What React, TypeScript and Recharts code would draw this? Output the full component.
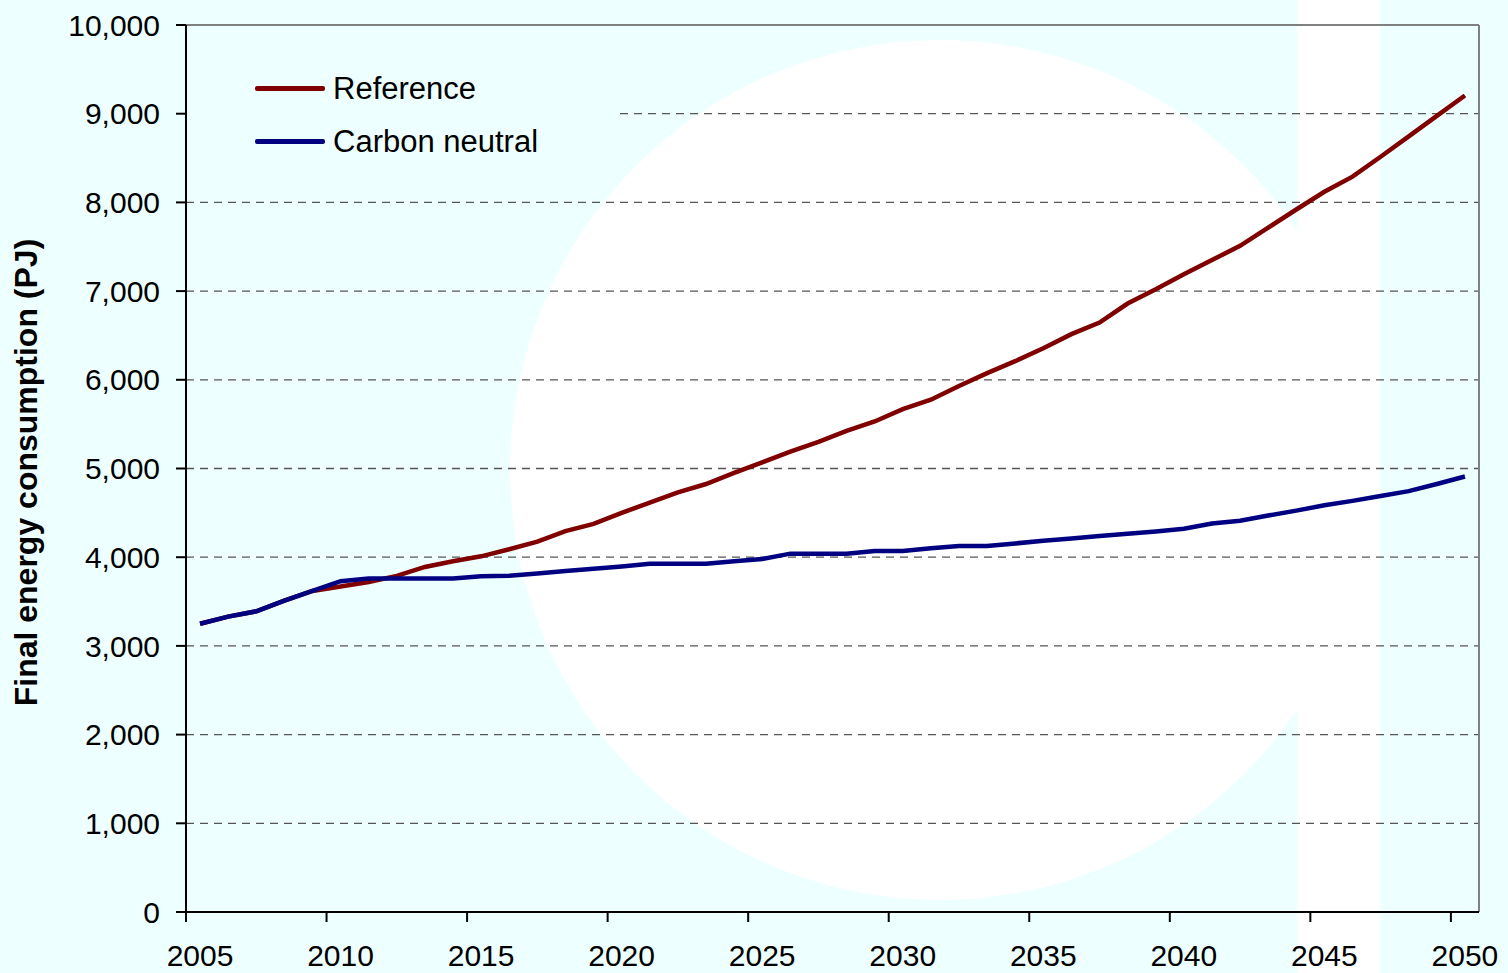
import { LineChart, Line, XAxis, YAxis, CartesianGrid, ReferenceLine, Legend } from 'recharts'

const years = [
  2005, 2006, 2007, 2008, 2009, 2010, 2011, 2012, 2013, 2014,
  2015, 2016, 2017, 2018, 2019, 2020, 2021, 2022, 2023, 2024,
  2025, 2026, 2027, 2028, 2029, 2030, 2031, 2032, 2033, 2034,
  2035, 2036, 2037, 2038, 2039, 2040, 2041, 2042, 2043, 2044,
  2045, 2046, 2047, 2048, 2049, 2050,
]

const reference = [
  3250, 3330, 3390, 3510, 3620, 3670, 3720, 3790, 3890, 3955,
  4010, 4090, 4175, 4295, 4375, 4500, 4615, 4730, 4825, 4950,
  5070, 5190, 5300, 5425, 5530, 5670, 5775, 5930, 6075, 6210,
  6355, 6515, 6645, 6860, 7020, 7190, 7350, 7510, 7715, 7920,
  8120, 8290, 8515, 8745, 8975, 9205,
]

const carbonNeutral = [
  3250, 3330, 3390, 3510, 3620, 3730, 3760, 3760, 3760, 3760,
  3785, 3790, 3815, 3845, 3870, 3895, 3925, 3925, 3925, 3955,
  3980, 4040, 4040, 4040, 4070, 4070, 4100, 4125, 4125, 4155,
  4185, 4210, 4240, 4265, 4290, 4320, 4380, 4410, 4470, 4525,
  4585, 4635, 4690, 4745, 4825, 4910,
]

const seriesNames = ['Reference', 'Carbon neutral']

// tick marks sit on category boundaries, labels are shifted to the category centre
const xTickMarks = [2004.5, 2009.5, 2014.5, 2019.5, 2024.5, 2029.5, 2034.5, 2039.5, 2044.5, 2049.5]
const yTicks = [0, 1000, 2000, 3000, 4000, 5000, 6000, 7000, 8000, 9000, 10000]

const BG = '#EEFFFF'
const FONT = '"Liberation Sans", Arial, sans-serif'

const data = years.map((year, i) => ({
  year,
  reference: reference[i],
  carbonNeutral: carbonNeutral[i],
}))

function YearTick({ x, y, payload }: any) {
  return (
    <text x={x + 14} y={y} dy="0.71em" textAnchor="middle" fontSize={30} fill="#000" fontFamily={FONT}>
      {payload.value + 0.5}
    </text>
  )
}

function LegendBox({ payload }: any) {
  // keep the series order, recharts sorts the payload by name
  const items = seriesNames
    .map(name => (payload ?? []).find((p: any) => p.value === name))
    .filter(Boolean)
  return (
    <div style={{ paddingTop: 14, paddingLeft: 68, fontFamily: FONT }}>
      {items.map((p: any) => (
        <div key={p.value} style={{ display: 'flex', alignItems: 'center', height: 53 }}>
          <div style={{ width: 70, height: 4.5, borderRadius: 2, background: p.color }} />
          <span style={{ marginLeft: 8, fontSize: 31, color: '#000' }}>{p.value}</span>
        </div>
      ))}
    </div>
  )
}

export default function App() {
  return (
    <div style={{ position: 'absolute', left: 0, top: 0, width: 1508, height: 973, background: BG, overflow: 'hidden', fontFamily: FONT }}>
      {/* pale backdrop shapes */}
      <div style={{ position: 'absolute', left: 510, top: 40, width: 860, height: 860, borderRadius: '50%', background: '#fff' }} />
      <div style={{ position: 'absolute', left: 1297, top: 0, width: 83, height: 973, background: '#fff' }} />
      <div style={{ position: 'absolute', left: 0, top: 0 }}>
        <LineChart width={1508} height={973} data={data} margin={{ top: 25, right: 29, bottom: 0, left: 0 }}>
          <CartesianGrid vertical={false} stroke="#555" strokeDasharray="8 6" strokeWidth={1.3} />
          <XAxis
            dataKey="year"
            type="number"
            domain={[2004.5, 2050.5]}
            ticks={xTickMarks}
            interval={0}
            height={61}
            tick={<YearTick />}
            tickSize={10}
            tickMargin={23}
            axisLine={{ stroke: '#000', strokeWidth: 2 }}
            tickLine={{ stroke: '#000', strokeWidth: 2 }}
          />
          <YAxis
            domain={[0, 10000]}
            ticks={yTicks}
            interval={0}
            width={186}
            tickFormatter={(v: number) => v.toLocaleString('en-US')}
            tick={{ fill: '#000', fontSize: 30, fontFamily: FONT }}
            tickSize={10}
            tickMargin={16}
            axisLine={{ stroke: '#000', strokeWidth: 2 }}
            tickLine={{ stroke: '#000', strokeWidth: 2 }}
            label={{
              value: 'Final energy consumption (PJ)',
              angle: -90,
              position: 'insideLeft',
              offset: 26,
              dy: 4,
              style: { textAnchor: 'middle', fontWeight: 'bold', fontSize: 32, fill: '#000', fontFamily: FONT },
            }}
          />
          <ReferenceLine y={10000} stroke="#808080" strokeWidth={2} />
          <ReferenceLine x={2050.5} stroke="#808080" strokeWidth={2} />
          <Legend
            layout="vertical"
            align="center"
            verticalAlign="middle"
            wrapperStyle={{ left: 187, top: 48, width: 430, height: 135, background: BG }}
            content={<LegendBox />}
          />
          <Line
            type="linear"
            dataKey="reference"
            name="Reference"
            stroke="#800000"
            strokeWidth={4.5}
            dot={false}
            activeDot={false}
            isAnimationActive={false}
          />
          <Line
            type="linear"
            dataKey="carbonNeutral"
            name="Carbon neutral"
            stroke="#000080"
            strokeWidth={4.5}
            dot={false}
            activeDot={false}
            isAnimationActive={false}
          />
        </LineChart>
      </div>
    </div>
  )
}
